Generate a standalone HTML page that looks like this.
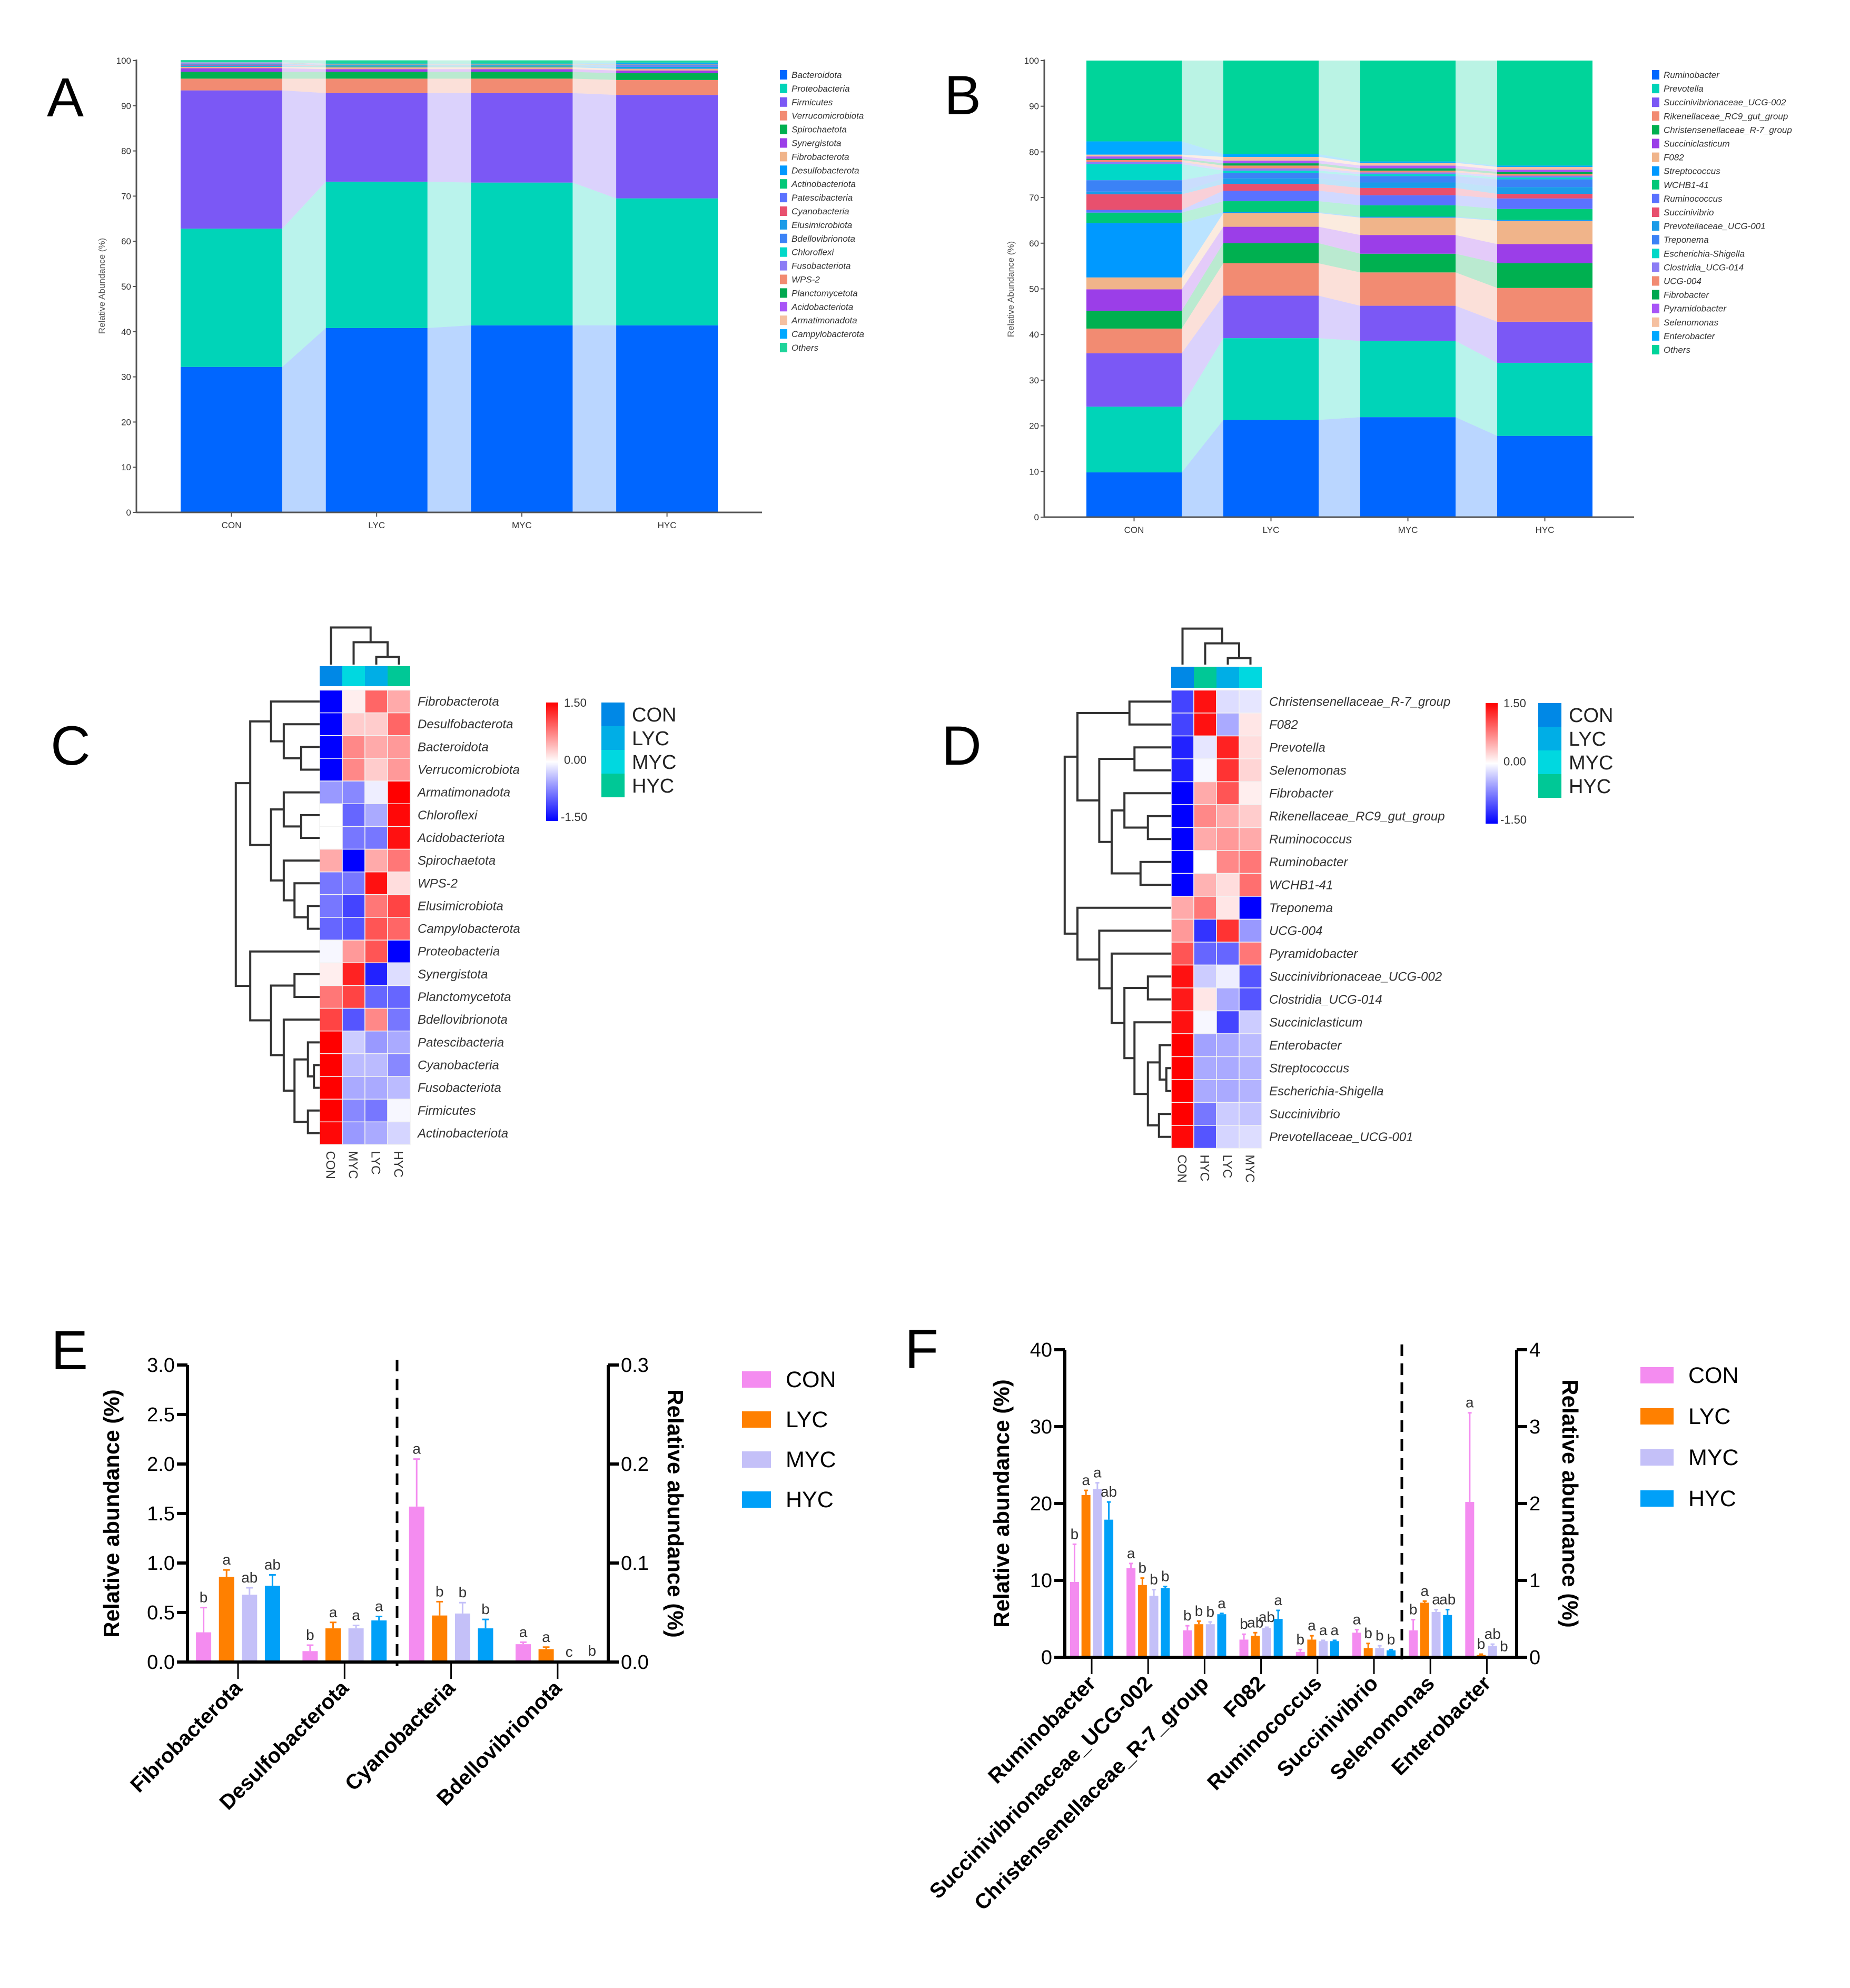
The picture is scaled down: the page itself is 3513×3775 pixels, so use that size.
<!DOCTYPE html>
<html><head><meta charset="utf-8"><style>
html,body{margin:0;padding:0;background:#fff;}
svg{display:block;font-family:"Liberation Sans",Arial,sans-serif;}
</style></head><body>
<svg id="chart" xmlns="http://www.w3.org/2000/svg" width="3513" height="3775" viewBox="0 0 3513 3775">
<rect x="0" y="0" width="3513" height="3775" fill="#fff"/>
<text x="89" y="221" font-size="105">A</text>
<text x="1793" y="217" font-size="105">B</text>
<text x="96" y="1452" font-size="105">C</text>
<text x="1788" y="1452" font-size="105">D</text>
<text x="97" y="2600" font-size="105">E</text>
<text x="1718" y="2598" font-size="105">F</text>
</svg>
<script>
// ---------- Panel A data ----------
const A_groups=['CON','LYC','MYC','HYC'];
const A_taxa=['Bacteroidota','Proteobacteria','Firmicutes','Verrucomicrobiota','Spirochaetota','Synergistota','Fibrobacterota','Desulfobacterota','Actinobacteriota','Patescibacteria','Cyanobacteria','Elusimicrobiota','Bdellovibrionota','Chloroflexi','Fusobacteriota','WPS-2','Planctomycetota','Acidobacteriota','Armatimonadota','Campylobacterota','Others'];
const A_CON=[32.2,30.6,30.6,2.6,1.5,0.8,0.3,0.1,0.1,0.1,0.2,0.1,0.05,0.05,0.1,0.05,0.05,0.05,0.05,0.05,0.45];
const A_LYC=[40.8,32.4,19.6,3.2,1.5,0.6,0.4,0.1,0.1,0.1,0.05,0.1,0.05,0.05,0.05,0.05,0.05,0.05,0.05,0.05,0.7];
const A_MYC=[41.4,31.6,19.8,3.2,1.5,0.6,0.4,0.1,0.1,0.1,0.05,0.1,0.05,0.05,0.05,0.05,0.05,0.05,0.05,0.05,0.7];
const A_HYC=[41.4,28.1,22.9,3.3,1.5,0.6,0.4,0.3,0.1,0.1,0.05,0.1,0.1,0.05,0.05,0.05,0.05,0.05,0.05,0.3,0.45];
const A_colors=['#0066ff','#00d4b8','#7b58f5','#f28b72','#00b050','#9b3ee8','#f0b48a','#0099ff','#00c878','#5a72ff','#e8506e','#1a9be8','#3b82f6','#00d8c8','#8c7cf5','#f28b72','#00a850','#a855f7','#f5c0a0','#00a8ff','#1ed49a'];
// ---------- Panel B data ----------
const B_groups=['CON','LYC','MYC','HYC'];
const B_taxa=['Ruminobacter','Prevotella','Succinivibrionaceae_UCG-002','Rikenellaceae_RC9_gut_group','Christensenellaceae_R-7_group','Succiniclasticum','F082','Streptococcus','WCHB1-41','Ruminococcus','Succinivibrio','Prevotellaceae_UCG-001','Treponema','Escherichia-Shigella','Clostridia_UCG-014','UCG-004','Fibrobacter','Pyramidobacter','Selenomonas','Enterobacter','Others'];
const B_CON=[9.8,14.4,11.7,5.4,3.9,4.7,2.6,11.9,2.3,0.6,3.4,0.6,2.5,3.5,0.5,0.4,0.3,0.5,0.4,2.9,17.7];
const B_LYC=[21.3,17.9,9.3,7.1,4.4,3.6,3.0,0.2,2.4,2.3,1.5,1.2,1.2,0.5,0.5,0.6,0.5,0.6,0.8,0.6,20.5];
const B_MYC=[21.9,16.7,7.7,7.3,4.1,4.1,3.8,0.2,2.5,2.2,1.6,1.2,1.4,0.4,0.4,0.4,0.5,0.6,0.6,0.3,22.1];
const B_HYC=[17.8,16.0,9.0,7.4,5.4,4.2,5.1,0.2,2.4,2.3,1.0,1.5,1.7,0.4,0.4,0.4,0.4,0.5,0.6,0.3,23.0];
const B_colors=['#0066ff','#00d4b8','#7b58f5','#f28b72','#00b050','#9b3ee8','#f0b48a','#0099ff','#00c878','#5a72ff','#e8506e','#1a9be8','#3b82f6','#00d8c8','#8c7cf5','#f28b72','#00a850','#a855f7','#f5c0a0','#00a8ff','#00d49a'];
// ---------- Panel C data ----------
const C_cols=['CON','MYC','LYC','HYC'];
const C_rows=['Fibrobacterota','Desulfobacterota','Bacteroidota','Verrucomicrobiota','Armatimonadota','Chloroflexi','Acidobacteriota','Spirochaetota','WPS-2','Elusimicrobiota','Campylobacterota','Proteobacteria','Synergistota','Planctomycetota','Bdellovibrionota','Patescibacteria','Cyanobacteria','Fusobacteriota','Firmicutes','Actinobacteriota'];
const C_CON=[-1.5,-1.5,-1.5,-1.5,-0.6,0,0,0.5,-0.8,-0.8,-0.9,-0.05,0.1,0.8,1.1,1.5,1.5,1.5,1.5,1.45];
const C_MYC=[0.1,0.3,0.7,0.7,-0.7,-0.9,-0.8,-1.5,-0.8,-1.1,-1.0,0.6,1.3,1.1,-1.0,-0.3,-0.4,-0.5,-0.7,-0.6];
const C_LYC=[0.9,0.3,0.5,0.3,-0.1,-0.5,-0.8,0.5,1.4,0.8,1.0,1.0,-1.3,-0.9,0.7,-0.6,-0.4,-0.5,-0.8,-0.5];
const C_HYC=[0.5,0.9,0.6,0.6,1.5,1.45,1.4,0.8,0.2,1.1,0.9,-1.5,-0.2,-0.9,-0.8,-0.5,-0.7,-0.4,-0.05,-0.25];
// ---------- Panel D data ----------
const D_cols=['CON','HYC','LYC','MYC'];
const D_rows=['Christensenellaceae_R-7_group','F082','Prevotella','Selenomonas','Fibrobacter','Rikenellaceae_RC9_gut_group','Ruminococcus','Ruminobacter','WCHB1-41','Treponema','UCG-004','Pyramidobacter','Succinivibrionaceae_UCG-002','Clostridia_UCG-014','Succiniclasticum','Enterobacter','Streptococcus','Escherichia-Shigella','Succinivibrio','Prevotellaceae_UCG-001'];
const D_CON=[-1.1,-1.1,-1.3,-1.3,-1.5,-1.5,-1.5,-1.5,-1.5,0.5,0.6,1.0,1.4,1.35,1.4,1.5,1.5,1.5,1.5,1.45];
const D_HYC=[1.4,1.4,-0.15,-0.05,0.5,0.7,0.5,0.0,0.45,0.8,-1.2,-0.9,-0.3,0.15,-0.05,-0.55,-0.5,-0.5,-0.8,-1.0];
const D_LYC=[-0.2,-0.5,1.3,1.2,1.0,0.5,0.6,0.7,0.2,0.15,1.2,-0.9,-0.1,-0.5,-1.1,-0.5,-0.5,-0.5,-0.3,-0.25];
const D_MYC=[-0.15,0.15,0.2,0.25,0.1,0.3,0.5,0.8,0.85,-1.5,-0.6,0.8,-1.0,-1.0,-0.3,-0.4,-0.45,-0.45,-0.35,-0.2];
// ---------- Panel E data ----------
const E_categories=['Fibrobacterota','Desulfobacterota','Cyanobacteria','Bdellovibrionota'];
const E_axis=['left','left','right','right'];
const E_CON=[0.30,0.11,0.157,0.018];
const E_LYC=[0.86,0.34,0.047,0.013];
const E_MYC=[0.68,0.34,0.049,0.0];
const E_HYC=[0.77,0.42,0.034,0.001];
const E_CON_err=[0.25,0.06,0.048,0.002];
const E_LYC_err=[0.07,0.06,0.014,0.002];
const E_MYC_err=[0.07,0.03,0.011,0.0];
const E_HYC_err=[0.11,0.04,0.009,0.0];
const E_CON_sig=['b','b','a','a'];
const E_LYC_sig=['a','a','b','a'];
const E_MYC_sig=['ab','a','b','c'];
const E_HYC_sig=['ab','a','b','b'];
const E_leftTicks=['0.0','0.5','1.0','1.5','2.0','2.5','3.0'];
const E_rightTicks=['0.0','0.1','0.2','0.3'];
// ---------- Panel F data ----------
const F_categories=['Ruminobacter','Succinivibrionaceae_UCG-002','Christensenellaceae_R-7_group','F082','Ruminococcus','Succinivibrio','Selenomonas','Enterobacter'];
const F_axis=['left','left','left','left','left','left','right','right'];
const F_CON=[9.8,11.6,3.5,2.3,0.7,3.2,0.35,2.02];
const F_LYC=[21.1,9.4,4.3,2.8,2.3,1.2,0.71,0.03];
const F_MYC=[21.9,8.0,4.3,3.8,2.1,1.2,0.59,0.15];
const F_HYC=[17.9,9.0,5.6,5.0,2.1,0.9,0.55,0.01];
const F_CON_err=[4.9,0.6,0.6,0.7,0.3,0.4,0.14,1.16];
const F_LYC_err=[0.6,0.9,0.4,0.4,0.5,0.6,0.02,0.01];
const F_MYC_err=[0.8,0.8,0.3,0.1,0.1,0.3,0.03,0.02];
const F_HYC_err=[2.3,0.2,0.1,1.1,0.1,0.1,0.07,0.0];
const F_CON_sig=['b','a','b','b','b','a','b','a'];
const F_LYC_sig=['a','b','b','ab','a','b','a','b'];
const F_MYC_sig=['a','b','b','ab','a','b','a','ab'];
const F_HYC_sig=['ab','b','a','a','a','b','ab','b'];
const F_leftTicks=['0','10','20','30','40'];
const F_rightTicks=['0','1','2','3','4'];
const GROUP_NAMES=['CON','LYC','MYC','HYC'];
const GROUP_COLORS=['#f48cf0','#ff8000','#c4c0f8','#00a0f8'];

const NS='http://www.w3.org/2000/svg';
const svg=document.getElementById('chart');
function el(tag,attrs,parent){const e=document.createElementNS(NS,tag);for(const k in attrs)e.setAttribute(k,attrs[k]);(parent||svg).appendChild(e);return e;}
function tx(x,y,s,attrs,parent){const t=el('text',Object.assign({x:x,y:y},attrs),parent);t.textContent=s;return t;}

// ---------- stacked chart ----------
function drawStacked(key,groups,seriesList,taxa,colors,g){
  const root=el('g',{});
  
  
  const yv=v=>g.y0-(g.y0-g.y100)*v/100;
  const cums=seriesList.map(s=>{let c=0;return s.map(v=>{const b=c;c+=v;return [b,c];});});
  for(let k=0;k<taxa.length;k++){
    for(let i=0;i<groups.length;i++){
      const l=g.bx+i*g.step,[b,t]=cums[i][k];
      const r=el('rect',{x:l,y:yv(t),width:g.bw,height:Math.max(0,yv(b)-yv(t)),fill:colors[k]},root);
      
      
      if(i<groups.length-1){
        const x1=l+g.bw,x2=g.bx+(i+1)*g.step,[b2,t2]=cums[i+1][k];
        const p=el('polygon',{points:`${x1},${yv(t)} ${x2},${yv(t2)} ${x2},${yv(b2)} ${x1},${yv(b)}`,fill:colors[k],'fill-opacity':0.27},root);
        
        
      }
    }
  }
  const ax=el('line',{x1:g.ax,y1:g.y0,x2:g.ax,y2:g.y100-2,stroke:'#555','stroke-width':3},root);
  
  
  const xa=el('line',{x1:g.ax,y1:g.y0,x2:g.axEnd,y2:g.y0,stroke:'#555','stroke-width':3},root);
  
  
  for(let v=0;v<=100;v+=10){
    const tk=el('line',{x1:g.ax-7,y1:yv(v),x2:g.ax,y2:yv(v),stroke:'#555','stroke-width':2},root);
    
    
    const tl=tx(g.ax-10,yv(v)+6,String(v),{'font-size':17,'text-anchor':'end',fill:'#333'},root);
    
    
  }
  groups.forEach((n,i)=>{
    const cx=g.bx+i*g.step+g.bw/2;
    const tk=el('line',{x1:cx,y1:g.y0,x2:cx,y2:g.y0+8,stroke:'#555','stroke-width':2},root);
    
    
    const tl=tx(cx,g.y0+30,n,{'font-size':17,'text-anchor':'middle',fill:'#333'},root);
    
    
  });
  const yt=tx(0,0,'Relative Abundance (%)',{'font-size':17,'text-anchor':'middle',fill:'#555',transform:`translate(${g.titleX},${g.titleY}) rotate(-90)`},root);
  
  
  taxa.forEach((n,i)=>{
    const y=g.ly+i*g.lstep;
    const r=el('rect',{x:g.lx,y:y-9,width:14,height:18,fill:colors[i]},root);
    
    
    const t=tx(g.lx+22,y+6,n,{'font-size':17,'font-style':'italic',fill:'#333'},root);
    
    
  });
}
drawStacked('a',A_groups,[A_CON,A_LYC,A_MYC,A_HYC],A_taxa,A_colors,{y0:973,y100:115,bx:343,bw:193,step:275.7,ax:259,axEnd:1447,titleX:199,titleY:543,lx:1481,ly:142,lstep:25.9});
drawStacked('b',B_groups,[B_CON,B_LYC,B_MYC,B_HYC],B_taxa,B_colors,{y0:982,y100:115,bx:2063,bw:181,step:260,ax:1983,axEnd:3103,titleX:1925,titleY:549,lx:3137,ly:142,lstep:26.1});

// ---------- heatmaps ----------
function heatColor(v){
  const t=Math.max(-1,Math.min(1,v/1.5));
  if(t>=0){const c=Math.round(255*(1-t));return `rgb(255,${c},${c})`;}
  const c=Math.round(255*(1+t));return `rgb(${c},${c},255)`;
}
const ANNOT={CON:'#0088e6',LYC:'#00aee6',MYC:'#00d8e0',HYC:'#00c896'};
function drawHeat(key,cols,rows,colVals,g){
  const root=el('g',{});
  
  
  const nr=rows.length;
  cols.forEach((c,j)=>{
    const a=el('rect',{x:g.x0+j*g.cw,y:g.ay0,width:g.cw,height:g.ay1-g.ay0,fill:ANNOT[c]},root);
    
    
    colVals[j].forEach((v,i)=>{
      const r=el('rect',{x:g.x0+j*g.cw,y:g.y0+i*g.rh,width:g.cw,height:g.rh,fill:heatColor(v),stroke:'#f2f2f2','stroke-width':1.5},root);
      
      
    });
    const cl=tx(0,0,c,{'font-size':24,fill:'#333',transform:`translate(${g.x0+j*g.cw+g.cw/2-9},${g.y0+nr*g.rh+12}) rotate(90)`},root);
    
    
  });
  rows.forEach((r,i)=>{
    const t=tx(g.x0+4*g.cw+14,g.y0+i*g.rh+g.rh/2+8,r,{'font-size':24,'font-style':'italic',fill:'#333'},root);
    
    
  });
  // row dendrogram
  const ny={},nx={};
  for(let i=0;i<nr;i++){ny[i]=g.y0+i*g.rh+g.rh/2;nx[i]=g.x0;}
  let id=nr;
  const dpath=[];
  g.rowMerges.forEach(m=>{
    const x=g.zx(m[2]);
    const a=m[0],b=m[1];
    dpath.push(`M${nx[a]},${ny[a]}H${x}V${ny[b]}H${nx[b]}`);
    ny[id]=(ny[a]+ny[b])/2;nx[id]=x;id++;
  });
  const rp=el('path',{d:dpath.join(''),fill:'none',stroke:'#333','stroke-width':4},root);
  
  
  const cx={},cy={};
  for(let j=0;j<4;j++){cx[j]=g.x0+j*g.cw+g.cw/2;cy[j]=g.cbot;}
  let cid=4;const cp=[];
  g.colMerges.forEach(m=>{
    const y=g.zy(m[2]);const a=m[0],b=m[1];
    cp.push(`M${cx[a]},${cy[a]}V${y}H${cx[b]}V${cy[b]}`);
    cx[cid]=(cx[a]+cx[b])/2;cy[cid]=y;cid++;
  });
  const cpe=el('path',{d:cp.join(''),fill:'none',stroke:'#333','stroke-width':4},root);
  
  
  // colorbar
  const gid='grad'+key;
  const defs=el('defs',{},root);
  const lg=el('linearGradient',{id:gid,x1:0,y1:0,x2:0,y2:1},defs);
  el('stop',{offset:'0','stop-color':'#ff0000'},lg);
  el('stop',{offset:'0.5','stop-color':'#ffffff'},lg);
  el('stop',{offset:'1','stop-color':'#0000ff'},lg);
  const cb=el('rect',{x:g.cbx,y:g.cby0,width:23,height:g.cby1-g.cby0,fill:`url(#${gid})`},root);
  
  
  [['1.50',0],['0.00',0.5],['-1.50',1]].forEach(([s,f])=>{
    const t=tx(g.cbx+(s[0]=='-'?28:34),g.cby0+f*(g.cby1-g.cby0)+(f==0?8:f==1?0:4),s,{'font-size':22,fill:'#333'},root);
    
    
  });
  ['CON','LYC','MYC','HYC'].forEach((n,i)=>{
    const r=el('rect',{x:g.lgx,y:g.cby0+i*45,width:44,height:45,fill:ANNOT[n]},root);
    
    
    const t=tx(g.lgx+58,g.cby0+i*45+36,n,{'font-size':38,fill:'#222'},root);
    
    
  });
}
drawHeat('c',C_cols,C_rows,[C_CON,C_MYC,C_LYC,C_HYC],{
  x0:607,cw:43,y0:1310.5,rh:43.15,ay0:1265,ay1:1303,cbot:1262,
  zx:z=>400+z*0.637, zy:z=>1160+z*0.7,
  rowMerges:[[2,3,270],[1,20,218],[0,21,180],[5,6,270],[4,23,218],[9,10,290],[8,25,250],[7,26,218],[24,27,180],[22,28,118],[12,13,250],[16,17,308],[15,31,290],[18,19,290],[32,33,250],[14,34,218],[30,35,180],[11,36,118],[29,37,75]],
  colMerges:[[2,3,125],[1,4,85],[0,5,45]],
  cbx:1037,cby0:1334,cby1:1559,lgx:1142});
drawHeat('d',D_cols,D_rows,[D_CON,D_HYC,D_LYC,D_MYC],{
  x0:2224,cw:43,y0:1310.5,rh:43.5,ay0:1266,ay1:1306,cbot:1262,
  zx:z=>1960+z*0.637, zy:z=>1160+z*0.7,
  rowMerges:[[0,1,290],[2,3,305],[5,6,345],[4,22,275],[7,8,323],[23,24,237],[21,25,200],[20,26,135],[12,13,345],[16,17,400],[15,29,380],[18,19,378],[30,31,345],[14,32,305],[28,33,275],[11,34,237],[10,35,200],[9,36,135],[27,37,97]],
  colMerges:[[2,3,128],[1,4,88],[0,5,48]],
  cbx:2821,cby0:1335,cby1:1564,lgx:2921});

// ---------- bar charts ----------
function drawBars(key,cats,axes,vals,errs,sigs,lTicks,rTicks,g){
  const root=el('g',{});
  
  
  const lMax=parseFloat(lTicks[lTicks.length-1]),rMax=parseFloat(rTicks[rTicks.length-1]);
  const yL=v=>g.y0-(g.y0-g.yTop)*v/lMax, yR=v=>g.y0-(g.y0-g.yTop)*v/rMax;
  cats.forEach((c,i)=>{
    const cx=g.cx0+i*g.cstep, ys=axes[i]=='left'?yL:yR;
    for(let k=0;k<4;k++){
      const bx=cx+(k-1.5)*g.bstep, v=vals[k][i], e=errs[k][i];
      const b=el('rect',{x:bx-g.bw/2,y:ys(v),width:g.bw,height:g.y0-ys(v),fill:GROUP_COLORS[k]},root);
      
      
      const et=ys(v+e);
      if(e>0){
        const eb=el('path',{d:`M${bx},${ys(v)}V${et}M${bx-g.bw*0.22},${et}H${bx+g.bw*0.22}`,stroke:GROUP_COLORS[k],'stroke-width':3,fill:'none'},root);
        
        
      }
      const s=tx(bx,et-10,sigs[k][i],{'font-size':28,'text-anchor':'middle',fill:'#333'},root);
      
      
    }
    const tk=el('line',{x1:cx,y1:g.y0,x2:cx,y2:g.y0+32,stroke:'#000','stroke-width':3},root);
    
    
    const tl=tx(0,0,c,{'font-size':40,'font-weight':'bold','text-anchor':'end',fill:'#000',transform:`translate(${cx+10},${g.y0+52}) rotate(-45)`},root);
    
    
  });
  const axes_=`M${g.xl},${g.yTop}V${g.y0}H${g.xr}V${g.yTop}`;
  const ap=el('path',{d:axes_,stroke:'#000','stroke-width':6,fill:'none'},root);
  
  
  lTicks.forEach(s=>{
    const y=yL(parseFloat(s));
    const t=el('line',{x1:g.xl-20,y1:y,x2:g.xl,y2:y,stroke:'#000','stroke-width':6},root);
    
    
    const l=tx(g.xl-24,y+13,s,{'font-size':38,'text-anchor':'end',fill:'#000'},root);
    
    
  });
  rTicks.forEach(s=>{
    const y=yR(parseFloat(s));
    const t=el('line',{x1:g.xr,y1:y,x2:g.xr+20,y2:y,stroke:'#000','stroke-width':6},root);
    
    
    const l=tx(g.xr+24,y+13,s,{'font-size':38,fill:'#000'},root);
    
    
  });
  const dl=el('line',{x1:g.dash,y1:g.yTop-10,x2:g.dash,y2:g.y0+8,stroke:'#000','stroke-width':5,'stroke-dasharray':'22 14'},root);
  
  
  const ym=(g.y0+g.yTop)/2;
  const lt=tx(0,0,'Relative abundance (%)',{'font-size':42,'font-weight':'bold','text-anchor':'middle',fill:'#000',transform:`translate(${g.ltx},${ym}) rotate(-90)`},root);
  
  
  const rt=tx(0,0,'Relative abundance (%)',{'font-size':42,'font-weight':'bold','text-anchor':'middle',fill:'#000',transform:`translate(${g.rtx},${ym}) rotate(90)`},root);
  
  
  GROUP_NAMES.forEach((n,k)=>{
    const r=el('rect',{x:g.lgx,y:g.lgy+k*g.lgstep,width:g.lgw,height:31,fill:GROUP_COLORS[k]},root);
    
    
    const t=tx(g.lgx+g.lgw+28,g.lgy+k*g.lgstep+30,n,{'font-size':43,fill:'#000'},root);
    
    
  });
}
drawBars('e',E_categories,E_axis,[E_CON,E_LYC,E_MYC,E_HYC],[E_CON_err,E_LYC_err,E_MYC_err,E_HYC_err],[E_CON_sig,E_LYC_sig,E_MYC_sig,E_HYC_sig],E_leftTicks,E_rightTicks,{
  y0:3156,yTop:2592,xl:356,xr:1155,cx0:452,cstep:202.3,bstep:43.6,bw:29,dash:754,ltx:226,rtx:1268,lgx:1409,lgy:2604,lgstep:76,lgw:55});
drawBars('f',F_categories,F_axis,[F_CON,F_LYC,F_MYC,F_HYC],[F_CON_err,F_LYC_err,F_MYC_err,F_HYC_err],[F_CON_sig,F_LYC_sig,F_MYC_sig,F_HYC_sig],F_leftTicks,F_rightTicks,{
  y0:3147,yTop:2563,xl:2022,xr:2880,cx0:2073,cstep:107.2,bstep:21.7,bw:17,dash:2662,ltx:1916,rtx:2967,lgx:3115,lgy:2596,lgstep:78,lgw:63});
</script>
</body></html>
